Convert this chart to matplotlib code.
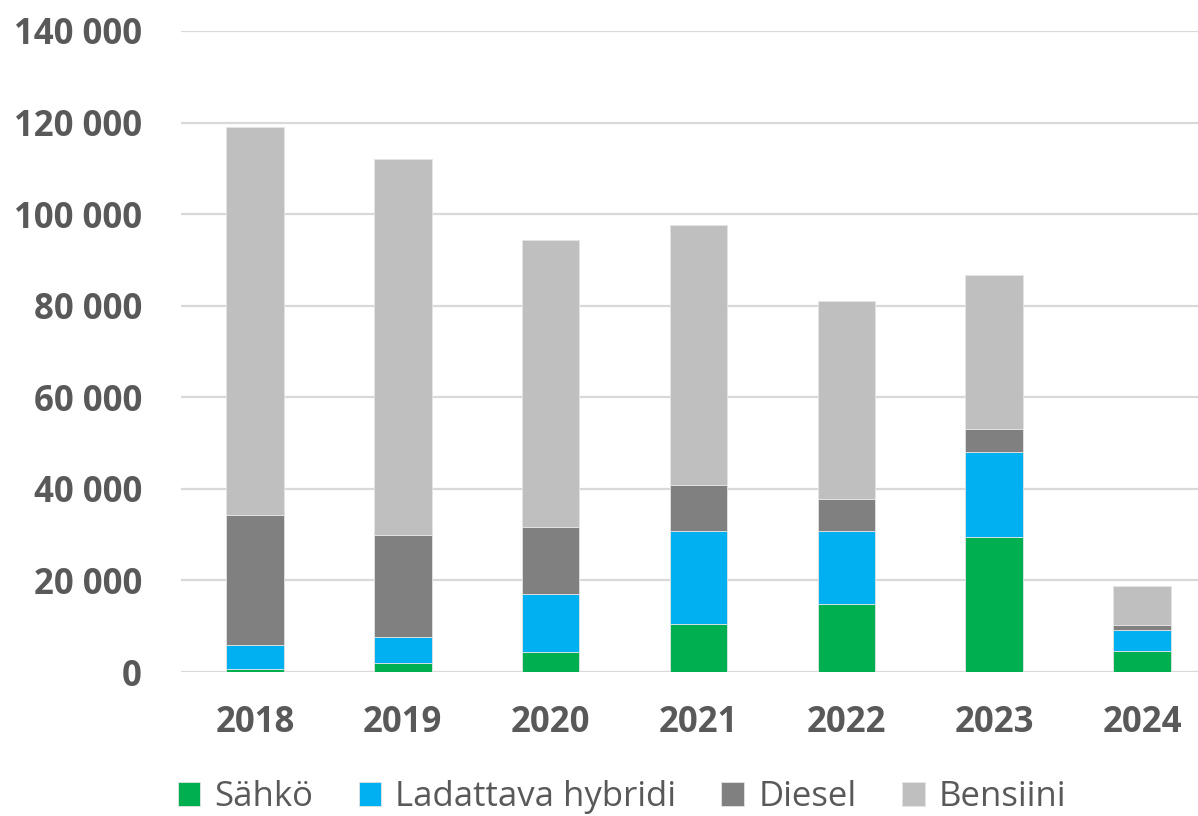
import matplotlib
matplotlib.use("Agg")
import matplotlib.pyplot as plt
import numpy as np
from matplotlib.ticker import FuncFormatter

years = ["2018", "2019", "2020", "2021", "2022", "2023", "2024"]
sahko = [700, 2000, 4400, 10400, 14850, 29550, 4500]
hybridi = [5100, 5750, 12700, 20300, 15850, 18600, 4600]
diesel = [28400, 22100, 14500, 10250, 7150, 5000, 1200]
bensiini = [84900, 82300, 62750, 56700, 43250, 33650, 8400]
series_names = ["Sähkö", "Ladattava hybridi", "Diesel", "Bensiini"]
colors = ["#00B050", "#00B0F0", "#808080", "#BFBFBF"]

plt.rcParams['font.family'] = ['Open Sans', 'DejaVu Sans']
fig = plt.figure(figsize=(11.98, 8.16), dpi=100)
ax = fig.add_axes([181 / 1198, 1 - 672 / 816, 1035 / 1198, 641 / 816])

x = np.arange(len(years))
bottom = np.zeros(len(years))
for name, vals, c in zip(series_names, [sahko, hybridi, diesel, bensiini], colors):
    ax.bar(x, vals, 0.39, bottom=bottom, color=c, label=name, zorder=3,
           edgecolor="#e4e4e4", linewidth=0.6)
    bottom += np.array(vals)

ax.set_ylim(0, 140000)
ax.set_xlim(-0.5, len(years) - 0.5)
ax.set_yticks(np.arange(0, 140001, 20000))
ax.yaxis.set_major_formatter(FuncFormatter(lambda v, p: f"{int(v):,}".replace(",", " ")))
ax.grid(axis="y", color="#D9D9D9", linewidth=1.6, zorder=0)
ax.set_xticks(x)
ax.set_xticklabels(years)
for s in ax.spines.values():
    s.set_visible(False)
ax.tick_params(axis="both", length=0, labelsize=25, labelcolor="#595959")
ax.tick_params(axis="y", pad=28)
ax.tick_params(axis="x", pad=24)
for lab in ax.get_xticklabels() + ax.get_yticklabels():
    lab.set_fontweight("bold")

leg = fig.legend(loc="center", bbox_to_anchor=(0.519, 1 - 797 / 816), ncol=4, frameon=False,
                 fontsize=25, labelcolor="#595959", handlelength=0.66, handleheight=0.66,
                 handletextpad=0.4, columnspacing=1.3, borderpad=0.0)

fig.savefig("out.png", dpi=100)
